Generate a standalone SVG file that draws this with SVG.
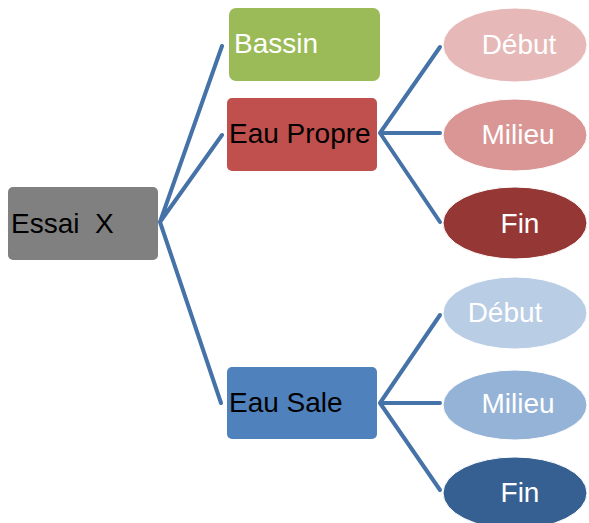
<svg xmlns="http://www.w3.org/2000/svg" width="589" height="523" viewBox="0 0 589 523">
<style>
.t{font-family:"Liberation Sans","DejaVu Sans",sans-serif;font-size:28px}
.w{fill:#ffffff}
.k{fill:#000000}
.c{stroke:#4572a7;stroke-width:4;fill:none;stroke-linecap:round;stroke-linejoin:round}
.e{stroke:#ffffff;stroke-width:1}
</style>
<rect width="589" height="523" fill="#ffffff"/>
<g id="connectors">
<path class="c" d="M222 46 L160 222 L222 135 M160 222 L221 403"/>
<path class="c" d="M440 47 L380 133 L440 133 M380 133 L440 222"/>
<path class="c" d="M440 315 L380 403 L440 403 M380 403 L440 490"/>
</g>
<g id="essai">
<rect x="8" y="187" width="150" height="73" rx="5" fill="#808080"/>
<text class="t k" x="11" y="233" xml:space="preserve" style="white-space:pre">Essai  X</text>
</g>
<g id="bassin">
<rect x="229" y="8" width="151" height="73" rx="7" fill="#9bbb59"/>
<text class="t w" x="234" y="53">Bassin</text>
</g>
<g id="eaupropre">
<rect x="227" y="98" width="150" height="73" rx="5" fill="#c0504d"/>
<text class="t k" x="229" y="143">Eau Propre</text>
</g>
<g id="eausale">
<rect x="227" y="367" width="150" height="72" rx="5" fill="#4f81bd"/>
<text class="t k" x="229" y="412">Eau Sale</text>
</g>
<g id="debut1">
<ellipse class="e" cx="515" cy="45" rx="72" ry="37" fill="#e6b9b8"/>
<text class="t w" x="519" y="54" text-anchor="middle">Début</text>
</g>
<g id="milieu1">
<ellipse class="e" cx="515" cy="135" rx="72" ry="36" fill="#d99694"/>
<text class="t w" x="518" y="144" text-anchor="middle">Milieu</text>
</g>
<g id="fin1">
<ellipse class="e" cx="515" cy="223" rx="72" ry="36" fill="#953735"/>
<text class="t w" x="520" y="233" text-anchor="middle">Fin</text>
</g>
<g id="debut2">
<ellipse class="e" cx="515" cy="313" rx="72" ry="36" fill="#b9cde5"/>
<text class="t w" x="505" y="322" text-anchor="middle">Début</text>
</g>
<g id="milieu2">
<ellipse class="e" cx="515" cy="405" rx="72" ry="35" fill="#95b3d7"/>
<text class="t w" x="518" y="413" text-anchor="middle">Milieu</text>
</g>
<g id="fin2">
<ellipse class="e" cx="515" cy="493" rx="72" ry="36" fill="#376092"/>
<text class="t w" x="520" y="502" text-anchor="middle">Fin</text>
</g>
</svg>
